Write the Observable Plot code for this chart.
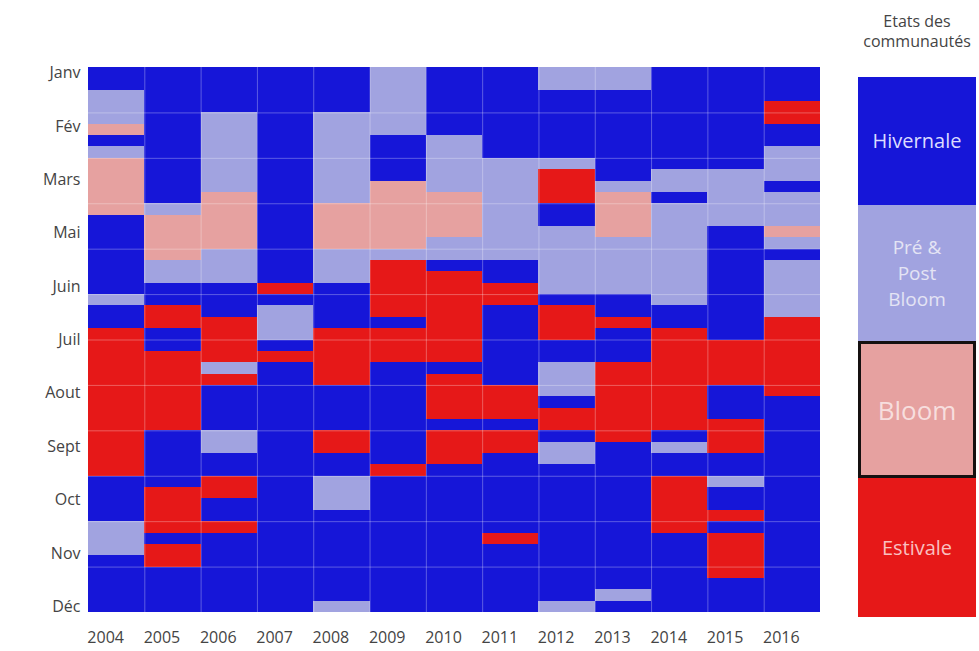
<!DOCTYPE html>
<html><head><meta charset="utf-8">
<script src="https://cdn.jsdelivr.net/npm/d3@7"></script>
<script src="https://cdn.jsdelivr.net/npm/@observablehq/plot@0.6"></script>
<style>
body{margin:0;background:#fff;font-family:"Open Sans",sans-serif}
#wrap{position:relative;width:979px;height:651px;overflow:hidden;background:#fff}
#chart{position:absolute;left:0;top:0}
.title{position:absolute;left:852px;width:130px;text-align:center;font-size:16px;color:#444;line-height:20px;top:11px;white-space:nowrap}
.leg{position:absolute;left:858px;width:118px;display:flex;align-items:center;justify-content:center;text-align:center;box-sizing:border-box}
</style></head>
<body><div id="wrap"><div id="chart"></div><div class="title">Etats des<br>communautés</div><div id="legend"></div></div>
<script>
// ---- data ----
const years = [2004,2005,2006,2007,2008,2009,2010,2011,2012,2013,2014,2015,2016];
const monthLabels = ["Janv","Fév","Mars","Mai","Juin","Juil","Aout","Sept","Oct","Nov","Déc"];
const monthTickPos = [0.5,5.2,9.9,14.6,19.3,24,28.7,33.4,38.1,42.8,47.5];
const states = ["Hivernale","Pré & Post Bloom","Bloom","Estivale"];
const stateCodes = ["H","P","B","E"];
const stateColors = ["#1616d8","#a1a3e0","#e6a1a0","#e61818"];
// runs of weekly states (4 per month, 48 per year), code + number of weeks
const runs2004 = "H2 P3 B1 H1 P1 B5 H7 P1 H2 E13 H4 P3 H5";
const runs2005 = "H12 P1 B4 P2 H2 E2 H2 E7 H5 E4 H1 E2 H4";
const runs2006 = "H4 P7 B5 P3 H3 E4 P1 E1 H4 P2 H2 E2 H2 E1 H7";
const runs2007 = "H19 E1 H1 P3 H1 E1 H22";
const runs2008 = "H4 P8 B4 P3 H4 E5 H4 E2 H2 P3 H8 P1";
const runs2009 = "P6 H4 B6 P1 E5 H1 E3 H9 E1 H12";
const runs2010 = "H6 P5 B4 P2 H1 E8 H1 E4 H1 E3 H13";
const runs2011 = "H8 P9 H2 E2 H7 E3 H1 E2 H7 E1 H6";
const runs2012 = "P2 H6 P1 E3 H2 P6 H1 E3 H2 P3 H1 E2 H1 P2 H12 P1";
const runs2013 = "P2 H8 P1 B4 P5 H2 E1 H3 E7 H13 P1 H1";
const runs2014 = "H9 P2 H1 P9 H2 E9 H1 P1 H2 E5 H7";
const runs2015 = "H9 P5 H10 E4 H3 E3 H2 P1 H2 E1 H1 E4 H3";
const runs2016 = "H3 E2 H2 P3 H1 P3 B1 P1 H1 P5 E7 H19";
const allRuns = [runs2004,runs2005,runs2006,runs2007,runs2008,runs2009,runs2010,runs2011,runs2012,runs2013,runs2014,runs2015,runs2016];

// ---- build table ----
const cells = [];
years.forEach((yr, i) => {
  let start = 0;
  for (const tok of allRuns[i].split(" ")) {
    const code = tok[0], n = +tok.slice(1);
    cells.push({year: yr, start, end: start + n, state: states[stateCodes.indexOf(code)]});
    start += n;
  }
});

const chart = Plot.plot({
  width: 840, height: 651,
  marginLeft: 88, marginRight: 20, marginTop: 67, marginBottom: 39,
  style: {fontFamily: "'Open Sans', sans-serif", fontSize: "16px", color: "#444", background: "white"},
  x: {domain: [years[0], years[years.length-1] + 1], label: null},
  y: {domain: [0, 48], reverse: true, label: null},
  color: {domain: states, range: stateColors},
  marks: [
    Plot.rect(cells, {x1: d => d.year, x2: d => d.year + 1, y1: "start", y2: "end", fill: "state", shapeRendering: "crispEdges"}),
    Plot.ruleY(d3.range(4, 48, 4), {stroke: "white", strokeOpacity: 0.3}),
    Plot.ruleX(years.slice(1), {stroke: "white", strokeOpacity: 0.3}),
    Plot.axisX({ticks: years.map(y => y + 0.5), tickFormat: d => String(Math.floor(d)), tickSize: 0, tickPadding: 19, dx: -11, fontSize: 16, label: null}),
    Plot.axisY({ticks: monthTickPos, tickFormat: d => monthLabels[monthTickPos.indexOf(d)], tickSize: 0, tickPadding: 8, fontSize: 16, label: null})
  ]
});
document.getElementById("chart").appendChild(chart);

// ---- legend ----
const legTop = [77, 205, 341, 478, 617];
const legText = ["Hivernale", "Pré &amp;<br>Post<br>Bloom", "Bloom", "Estivale"];
const legTextColor = ["#dcdcff", "#e4e4f4", "#f7dede", "#f9c0c0"];
const legFont = [20, 19, 26, 20];
const legLine = [24, 26, 30, 24];
const leg = document.getElementById("legend");
states.forEach((s, i) => {
  const d = document.createElement("div");
  d.className = "leg";
  d.style.top = legTop[i] + "px";
  d.style.height = (legTop[i+1] - legTop[i]) + "px";
  d.style.background = stateColors[i];
  d.style.color = legTextColor[i];
  d.style.fontSize = legFont[i] + "px";
  d.style.lineHeight = legLine[i] + "px";
  if (s === "Bloom") d.style.border = "3px solid #151010";
  d.innerHTML = legText[i];
  leg.appendChild(d);
});
</script>
</body></html>
